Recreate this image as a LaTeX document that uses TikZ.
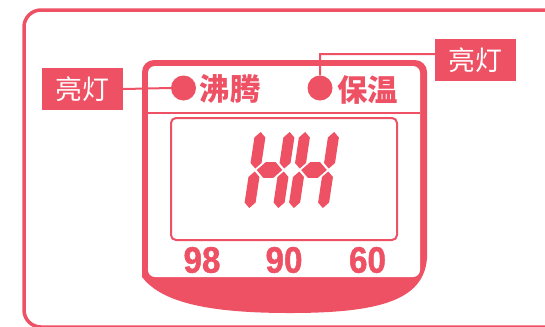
\documentclass[tikz,border=0pt]{standalone}
\usepackage{fontspec}
\newfontfamily\cjk{Noto Sans CJK SC}
\newfontfamily\numfont{Liberation Sans Bold}[FakeStretch=0.9, FakeBold=1.2]
\definecolor{lcd}{RGB}{238,80,100}
\tikzset{
  lbl/.style={fill=lcd, text=white, inner sep=0pt, minimum width=81bp, minimum height=42bp, font=\cjk\fontsize{27}{27}\selectfont},
  head/.style={text=lcd, inner sep=0pt, font=\cjk\bfseries\fontsize{30.5}{31}\selectfont},
  num/.style={text=lcd, inner sep=0pt, font=\numfont\fontsize{37}{37}\selectfont},
  dot/.style={circle, fill=lcd, inner sep=0pt, minimum size=25bp},
  conn/.style={draw=lcd, line width=2bp},
}
\newcommand\segH[2]{%
\begin{scope}[shift={(#1,#2)}, cm={1,0,0.15,1,(0,0)}]
 \fill[lcd] (-14.5,-38) -- (-9,-32.5) -- (-9,-7) -- (-14.5,-1.5) -- (-20,-7) -- (-20,-32.5) -- cycle;
 \fill[lcd] (-14.5,38) -- (-9,32.5) -- (-9,7) -- (-14.5,1.5) -- (-20,7) -- (-20,32.5) -- cycle;
 \fill[lcd] (14.5,-38) -- (20,-32.5) -- (20,-7) -- (14.5,-1.5) -- (9,-7) -- (9,-32.5) -- cycle;
 \fill[lcd] (14.5,38) -- (20,32.5) -- (20,7) -- (14.5,1.5) -- (9,7) -- (9,32.5) -- cycle;
 \fill[lcd] (-12.8,0) -- (-5,-7.8) -- (5,-7.8) -- (12.8,0) -- (5,7.8) -- (-5,7.8) -- cycle;
\end{scope}}
\begin{document}
\begin{tikzpicture}[x=1bp,y=-1bp]
\useasboundingbox (0,0) rectangle (545,326);
\clip (0,0) rectangle (545,326);
% outer frame
\draw[lcd, line width=3.5bp] (560,10) -- (41,10) arc[start angle=270,end angle=180,radius=17] -- (24,310) arc[start angle=180,end angle=90,radius=17] -- (560,327);
% display body
\fill[lcd] (142,277) -- (142,72) arc[start angle=180,end angle=270,radius=12] -- (415,60) arc[start angle=270,end angle=360,radius=12] -- (427,258) .. controls (424,300) and (380,313) .. (290,313) .. controls (200,313) and (160,300) .. cycle;
\fill[white, rounded corners=7] (148,66) rectangle (420,277);
% separator
\draw[lcd, line width=1.8bp] (148,113) -- (420,113);
% screen
\draw[lcd, line width=2bp, rounded corners=5] (171,118) rectangle (397,240);
% digits
\segH{269.5}{170}
\segH{314}{170}
% header
\node[dot] (c1) at (183.5,88) {};
\node[dot] (c2) at (320,88) {};
\node[head] (boil) at (230,89) {沸腾};
\node[head] (keep) at (367.5,90) {保温};
% labels
\node[lbl] (lbox) at (82.5,89) {亮灯};
\node[lbl] (rbox) at (475.5,60) {亮灯};
\coordinate (rj) at (320,54);
\draw[conn] (lbox.east) -- (c1.west);
\draw[conn] ([yshift=6bp]rbox.west) -- (rj) -- (c2.north);
% scale numbers
\node[num] (n98) at (202,260) {98};
\node[num] (n90) at (284,260) {90};
\node[num] (n60) at (367.5,260) {60};
\end{tikzpicture}
\end{document}
